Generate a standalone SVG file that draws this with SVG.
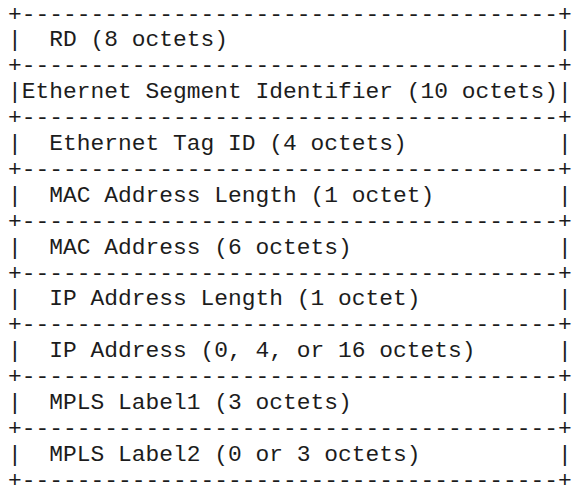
<svg xmlns="http://www.w3.org/2000/svg" width="581" height="492" viewBox="0 0 581 492" xml:space="preserve">
<style>
text { font-family: "Liberation Mono", "DejaVu Sans Mono", monospace; font-size: 22.9px; fill: #1c1c1c; white-space: pre; }
</style>
<rect width="581" height="492" fill="#ffffff"/>
<g id="connectors">
<text x="8.1" y="20.5" textLength="563.75" lengthAdjust="spacing">+---------------------------------------+</text>
<text x="8.1" y="72.3" textLength="563.75" lengthAdjust="spacing">+---------------------------------------+</text>
<text x="8.1" y="124.1" textLength="563.75" lengthAdjust="spacing">+---------------------------------------+</text>
<text x="8.1" y="175.9" textLength="563.75" lengthAdjust="spacing">+---------------------------------------+</text>
<text x="8.1" y="227.7" textLength="563.75" lengthAdjust="spacing">+---------------------------------------+</text>
<text x="8.1" y="279.5" textLength="563.75" lengthAdjust="spacing">+---------------------------------------+</text>
<text x="8.1" y="331.3" textLength="563.75" lengthAdjust="spacing">+---------------------------------------+</text>
<text x="8.1" y="383.1" textLength="563.75" lengthAdjust="spacing">+---------------------------------------+</text>
<text x="8.1" y="434.9" textLength="563.75" lengthAdjust="spacing">+---------------------------------------+</text>
<text x="8.1" y="486.7" textLength="563.75" lengthAdjust="spacing">+---------------------------------------+</text>
</g>
<g id="rd"><text x="8.1" y="46.4" textLength="563.75" lengthAdjust="spacing">|  RD (8 octets)                        |</text></g>
<g id="esi"><text x="8.1" y="98.2" textLength="563.75" lengthAdjust="spacing">|Ethernet Segment Identifier (10 octets)|</text></g>
<g id="etag"><text x="8.1" y="150.0" textLength="563.75" lengthAdjust="spacing">|  Ethernet Tag ID (4 octets)           |</text></g>
<g id="maclen"><text x="8.1" y="201.8" textLength="563.75" lengthAdjust="spacing">|  MAC Address Length (1 octet)         |</text></g>
<g id="mac"><text x="8.1" y="253.6" textLength="563.75" lengthAdjust="spacing">|  MAC Address (6 octets)               |</text></g>
<g id="iplen"><text x="8.1" y="305.4" textLength="563.75" lengthAdjust="spacing">|  IP Address Length (1 octet)          |</text></g>
<g id="ip"><text x="8.1" y="357.2" textLength="563.75" lengthAdjust="spacing">|  IP Address (0, 4, or 16 octets)      |</text></g>
<g id="label1"><text x="8.1" y="409.0" textLength="563.75" lengthAdjust="spacing">|  MPLS Label1 (3 octets)               |</text></g>
<g id="label2"><text x="8.1" y="460.8" textLength="563.75" lengthAdjust="spacing">|  MPLS Label2 (0 or 3 octets)          |</text></g>
</svg>
